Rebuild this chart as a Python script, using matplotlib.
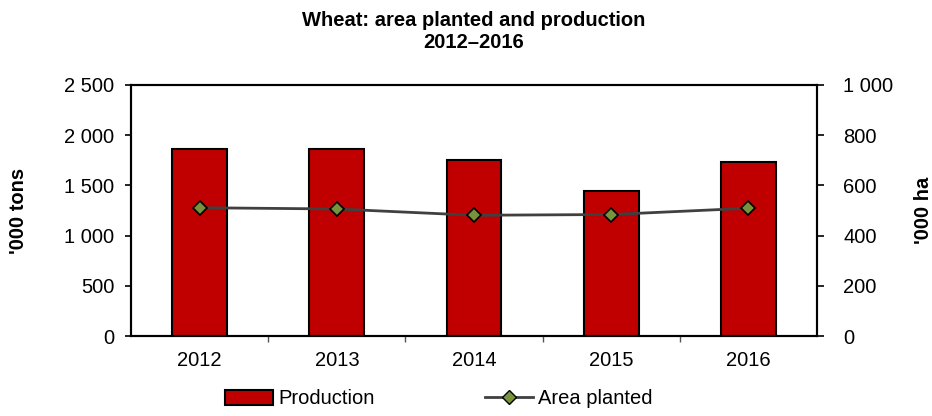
import matplotlib.pyplot as plt
from matplotlib.ticker import FuncFormatter, MultipleLocator, FixedLocator
from matplotlib.lines import Line2D
from matplotlib.patches import Patch

plt.rcParams['font.family'] = ['Liberation Sans', 'DejaVu Sans']

years = ['2012', '2013', '2014', '2015', '2016']
production = [1862, 1862, 1753, 1444, 1733]   # '000 tons
area_planted = [511, 506, 481, 484, 509]       # '000 ha

font_size = 14.5
bar_color = '#C00000'
line_color = '#404040'
marker_color = '#77933C'


def space_thousands(v, pos):
    return f'{int(v):,}'.replace(',', ' ')


fig = plt.figure(figsize=(9.32, 4.16), dpi=100)
ax = fig.add_axes([0.1406, 0.1923, 0.736, 0.6034])
ax2 = ax.twinx()

x = range(len(years))
ax.bar(x, production, width=0.4, color=bar_color, edgecolor='black', linewidth=1.5, zorder=2)
ax2.plot(x, area_planted, color=line_color, linewidth=2, marker='D', markersize=7.5,
         markerfacecolor=marker_color, markeredgecolor='black', markeredgewidth=1.2, zorder=3)

ax.set_xlim(-0.5, 4.5)
ax.set_ylim(0, 2500)
ax2.set_ylim(0, 1000)
ax.yaxis.set_major_locator(MultipleLocator(500))
ax2.yaxis.set_major_locator(MultipleLocator(200))
ax.yaxis.set_major_formatter(FuncFormatter(space_thousands))
ax2.yaxis.set_major_formatter(FuncFormatter(space_thousands))

ax.set_xticks(list(x))
ax.set_xticklabels(years, fontsize=font_size)
ax.xaxis.set_minor_locator(FixedLocator([0.5, 1.5, 2.5, 3.5]))
ax.tick_params(axis='x', which='major', length=0, pad=11)
ax.tick_params(axis='x', which='minor', length=4, width=1, color='#555555')
ax.tick_params(axis='y', labelsize=font_size, length=4, width=1.2, direction='out', pad=8)
ax2.tick_params(axis='y', labelsize=font_size, length=5, width=1.2, direction='out', pad=14)

for a in (ax, ax2):
    for s in a.spines.values():
        s.set_linewidth(1.5)
ax2.set_zorder(ax.get_zorder() + 1)
ax2.patch.set_visible(False)

ax.set_ylabel("'000 tons", fontsize=font_size, fontweight='bold')
ax2.set_ylabel("'000 ha", fontsize=font_size, fontweight='bold')
ax.yaxis.set_label_coords(-0.150, 0.5)
ax2.yaxis.set_label_coords(1.1414, 0.5)

fig.text(474 / 932, 1 - 20 / 416, 'Wheat: area planted and production', ha='center', va='center',
         fontsize=font_size, fontweight='bold')
fig.text(474 / 932, 1 - 42 / 416, '2012\u20132016', ha='center', va='center',
         fontsize=font_size, fontweight='bold')

handles = [Patch(facecolor=bar_color, edgecolor='black', linewidth=1.5, label='Production'),
           Line2D([0], [0], color=line_color, linewidth=2, marker='D', markersize=7.5,
                  markerfacecolor=marker_color, markeredgecolor='black', label='Area planted')]
fig.legend(handles=handles, loc='center left', bbox_to_anchor=(225 / 932, 1 - 399 / 416), ncol=2,
           frameon=False, fontsize=font_size, columnspacing=5.45, handlelength=2.4,
           handletextpad=0.25, borderpad=0, borderaxespad=0)

plt.savefig('out.png', dpi=100)
